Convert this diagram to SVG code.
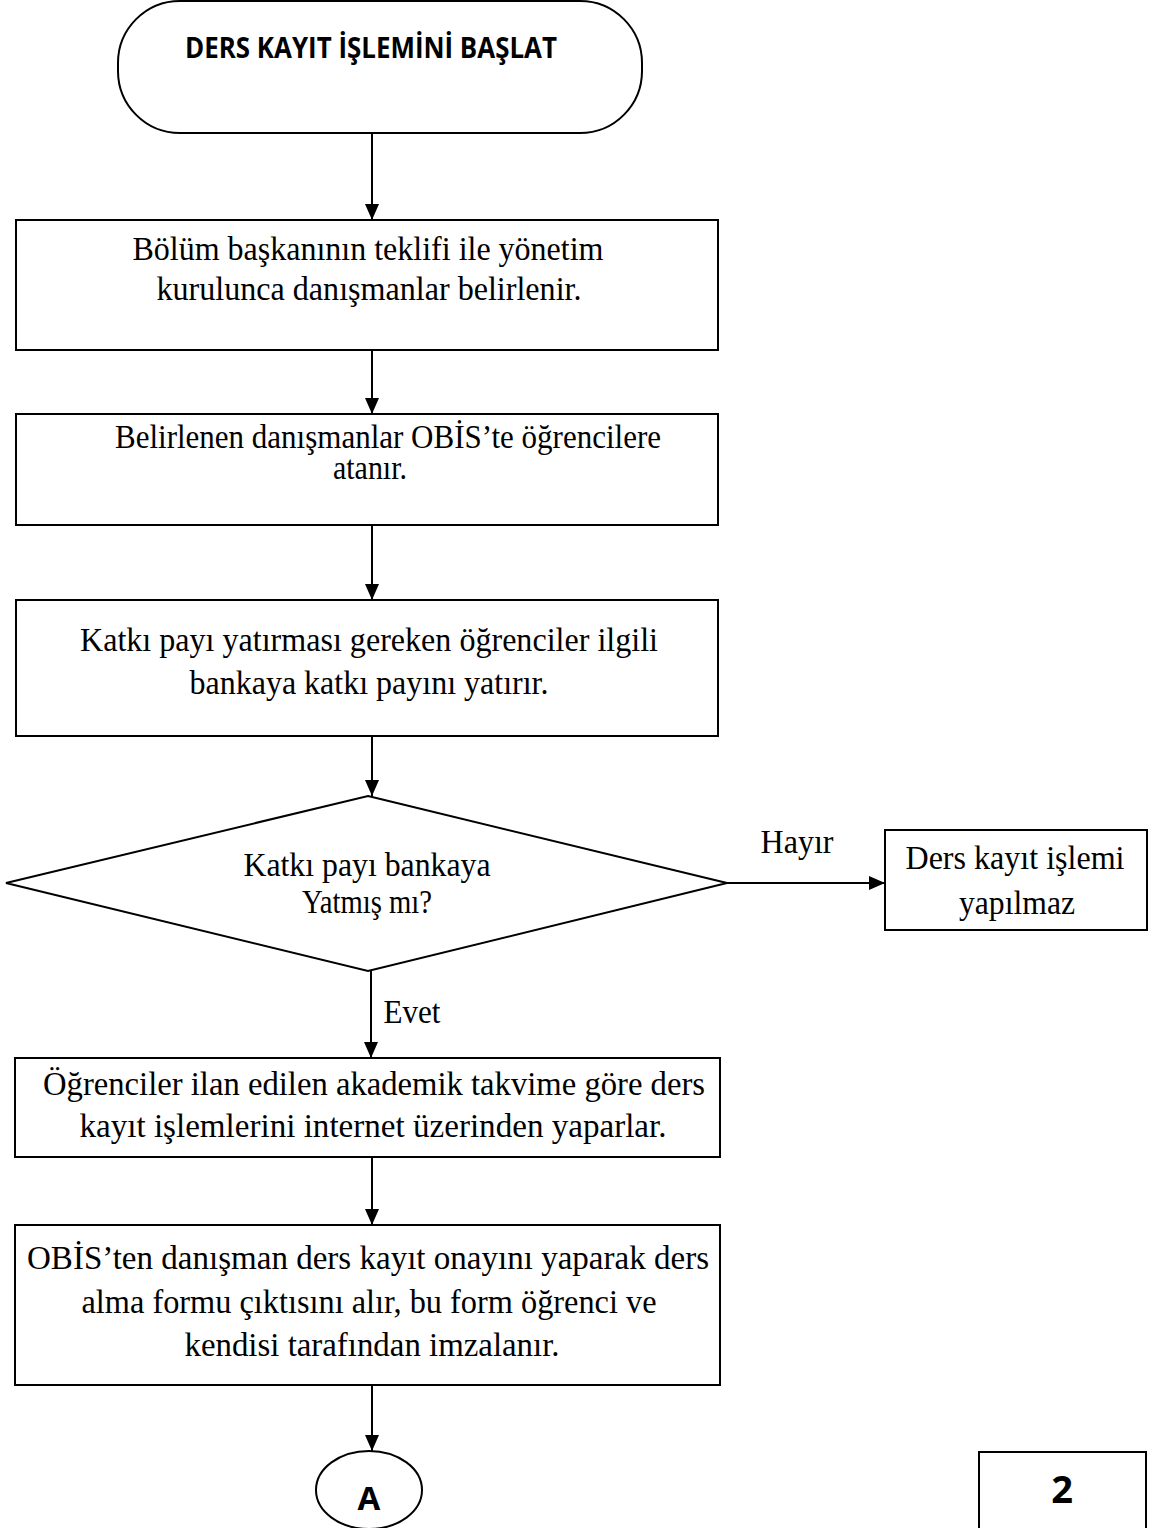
<svg xmlns="http://www.w3.org/2000/svg" width="1156" height="1528" viewBox="0 0 1156 1528">
<style>
.s{fill:#fff;stroke:#000;stroke-width:2}
.t{font-family:"Liberation Serif","Times New Roman",serif;font-size:33px;fill:#000;text-anchor:middle}
.b{font-family:"Open Sans","Liberation Sans",Arial,sans-serif;font-weight:bold;fill:#000;text-anchor:middle}
.c{stroke:#000;stroke-width:2;fill:none;marker-end:url(#ah)}
</style>
<defs>
<marker id="ah" viewBox="0 0 16 14" refX="16" refY="7" markerWidth="16" markerHeight="14" markerUnits="userSpaceOnUse" orient="auto"><path d="M0,0 L16,7 L0,14 z" fill="#000"/></marker>
</defs>
<rect width="1156" height="1528" fill="#fff"/>
<g id="connectors">
<line class="c" x1="372" y1="133" x2="372" y2="220"/>
<line class="c" x1="372" y1="350" x2="372" y2="414"/>
<line class="c" x1="372" y1="525" x2="372" y2="600"/>
<line class="c" x1="372" y1="736" x2="372" y2="796"/>
<line class="c" x1="727" y1="883" x2="885" y2="883"/>
<line class="c" x1="371" y1="971" x2="371" y2="1058"/>
<line class="c" x1="372" y1="1157" x2="372" y2="1225"/>
<line class="c" x1="372" y1="1385" x2="372" y2="1451"/>
<text class="t" x="797" y="853" textLength="73" lengthAdjust="spacingAndGlyphs">Hayır</text>
<text class="t" x="412" y="1023" textLength="57" lengthAdjust="spacingAndGlyphs">Evet</text>
</g>
<g id="start">
<rect class="s" x="118" y="1" width="524" height="132" rx="62" ry="62"/>
<text class="b" x="371" y="58" font-size="28" textLength="372" lengthAdjust="spacingAndGlyphs">DERS KAYIT İŞLEMİNİ BAŞLAT</text>
</g>
<g id="box1">
<rect class="s" x="16" y="220" width="702" height="130"/>
<text class="t" x="368" y="260" textLength="471" lengthAdjust="spacingAndGlyphs">Bölüm başkanının teklifi ile yönetim</text>
<text class="t" x="369" y="300" textLength="425" lengthAdjust="spacingAndGlyphs">kurulunca danışmanlar belirlenir.</text>
</g>
<g id="box2">
<rect class="s" x="16" y="414" width="702" height="111"/>
<text class="t" x="388" y="448" textLength="546" lengthAdjust="spacingAndGlyphs">Belirlenen danışmanlar OBİS’te öğrencilere</text>
<text class="t" x="370" y="479" textLength="74" lengthAdjust="spacingAndGlyphs">atanır.</text>
</g>
<g id="box3">
<rect class="s" x="16" y="600" width="702" height="136"/>
<text class="t" x="369" y="651" textLength="578" lengthAdjust="spacingAndGlyphs">Katkı payı yatırması gereken öğrenciler ilgili</text>
<text class="t" x="369" y="694" textLength="359" lengthAdjust="spacingAndGlyphs">bankaya katkı payını yatırır.</text>
</g>
<g id="decision">
<polygon class="s" points="368,796 727,883 368,971 6,883"/>
<text class="t" x="367" y="876" textLength="247" lengthAdjust="spacingAndGlyphs">Katkı payı bankaya</text>
<text class="t" x="367" y="913" textLength="130" lengthAdjust="spacingAndGlyphs">Yatmış mı?</text>
</g>
<g id="no-box">
<rect class="s" x="885" y="830" width="262" height="100"/>
<text class="t" x="1015" y="869" textLength="219" lengthAdjust="spacingAndGlyphs">Ders kayıt işlemi</text>
<text class="t" x="1017" y="914" textLength="116" lengthAdjust="spacingAndGlyphs">yapılmaz</text>
</g>
<g id="box4">
<rect class="s" x="15" y="1058" width="705" height="99"/>
<text class="t" x="374" y="1095" textLength="662" lengthAdjust="spacingAndGlyphs">Öğrenciler ilan edilen akademik takvime göre ders</text>
<text class="t" x="373" y="1137" textLength="587" lengthAdjust="spacingAndGlyphs">kayıt işlemlerini internet üzerinden yaparlar.</text>
</g>
<g id="box5">
<rect class="s" x="15" y="1225" width="705" height="160"/>
<text class="t" x="368" y="1269" textLength="682" lengthAdjust="spacingAndGlyphs">OBİS’ten danışman ders kayıt onayını yaparak ders</text>
<text class="t" x="369" y="1313" textLength="575" lengthAdjust="spacingAndGlyphs">alma formu çıktısını alır, bu form öğrenci ve</text>
<text class="t" x="372" y="1356" textLength="375" lengthAdjust="spacingAndGlyphs">kendisi tarafından imzalanır.</text>
</g>
<g id="connector-a">
<ellipse class="s" cx="369" cy="1490" rx="53" ry="39"/>
<text class="b" x="369" y="1510" font-size="33">A</text>
</g>
<g id="page">
<rect class="s" x="979" y="1452" width="167" height="90"/>
<text class="b" x="1062" y="1503" font-size="38">2</text>
</g>
</svg>
